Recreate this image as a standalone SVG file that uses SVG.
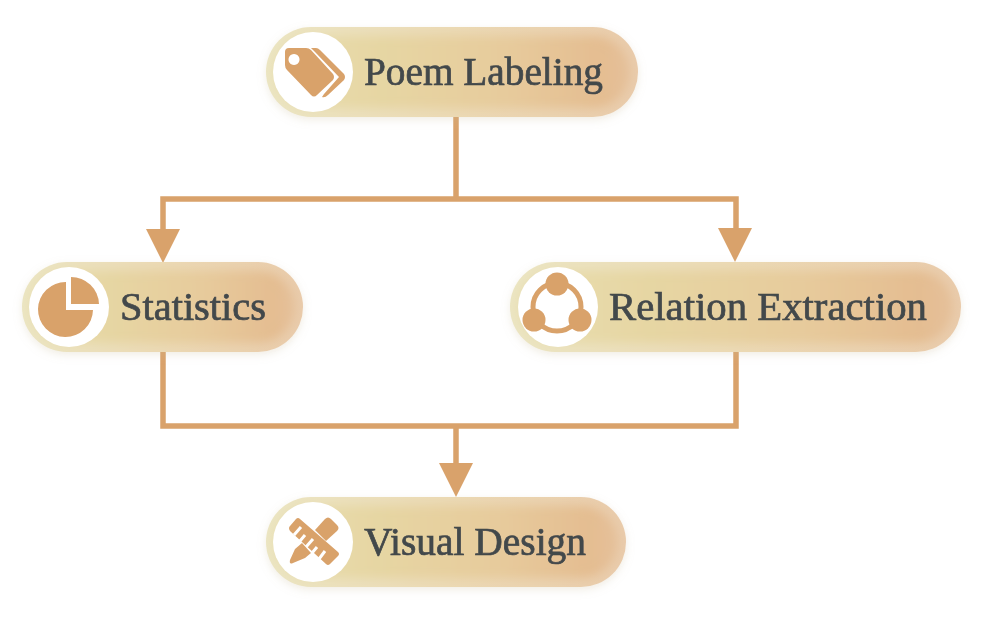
<svg xmlns="http://www.w3.org/2000/svg" width="990" height="618" viewBox="0 0 990 618">
<style>
.pill{filter:url(#soft)}
.core{filter:url(#inner)}
.disc{fill:#fff}
.ico{fill:#d9a26b}
.cut{fill:none;stroke:#fff;stroke-width:3}
.lbl{font-family:"Liberation Serif","DejaVu Serif",serif;font-size:39px;fill:#43484b;stroke:#43484b;stroke-width:.7px;filter:url(#tiny)}
.wire{fill:none;stroke:#d9a26b;stroke-width:5.500}
.blur{filter:url(#tiny)}
</style>
<defs>
<linearGradient id="base" x1="0" y1="0" x2="1" y2="0">
<stop offset="0" stop-color="#ebe5c2"/>
<stop offset=".5" stop-color="#ebd9b4"/>
<stop offset="1" stop-color="#e9cbab"/>
</linearGradient>
<linearGradient id="g" x1="0" y1="0" x2="1" y2="0">
<stop offset="0" stop-color="#e9deb0"/>
<stop offset=".3" stop-color="#e6d6a3"/>
<stop offset=".65" stop-color="#e7cb9c"/>
<stop offset=".92" stop-color="#e4bd91"/>
<stop offset="1" stop-color="#e5c09a"/>
</linearGradient>
<filter id="soft" x="-10%" y="-30%" width="120%" height="170%">
<feDropShadow dx="0" dy="3" stdDeviation="4" flood-color="#c8b898" flood-opacity=".25"/>
</filter>
<filter id="inner" x="-5%" y="-20%" width="110%" height="140%"><feGaussianBlur stdDeviation="5"/></filter>
<filter id="tiny" x="-5%" y="-5%" width="110%" height="110%"><feGaussianBlur stdDeviation=".35"/></filter>
</defs>
<g id="connectors">
<path class="wire" d="M456 117V199"/>
<path class="wire" d="M163 236V199H736V236"/>
<path class="wire" d="M163 352V426H736V352"/>
<path class="wire" d="M456 426V466"/>
<path class="ico" d="M146 229H180L163 263Z"/>
<path class="ico" d="M718 228H752L735 262Z"/>
<path class="ico" d="M439 463H473L456 497Z"/>
</g>
<g id="poem-labeling">
<rect class="pill" x="266" y="27" width="372" height="90" rx="45" fill="url(#base)"/>
<rect class="core" x="274" y="36" width="356" height="72" rx="36" fill="url(#g)"/>
<circle class="disc" cx="313" cy="72" r="40"/>
<g class="ico blur">
<path fill-rule="evenodd" d="M289 48H306Q309 48 311 50L333 74Q335 77 333 80L317 95Q314 98 311 95L287 70Q285 68 285 65V52Q285 48 289 48ZM294 54a5.500 5.500 0 1 0 .01 0Z"/>
<path d="M311 48H316Q318 48 320 50L344 74Q346 77 344 80L328 95Q325 98 322 97L324 94L339 77L315 52Z"/>
</g>
<text class="lbl" x="364" y="85" textLength="239" lengthAdjust="spacingAndGlyphs">Poem Labeling</text>
</g>
<g id="statistics">
<rect class="pill" x="22" y="262" width="281" height="90" rx="45" fill="url(#base)"/>
<rect class="core" x="30" y="271" width="265" height="72" rx="36" fill="url(#g)"/>
<circle class="disc" cx="69" cy="307" r="40"/>
<g class="ico blur">
<path d="M66 282V310H93A27.500 27.500 0 1 1 66 282Z"/>
<path d="M71 277A28 28 0 0 1 99 304H71Z"/>
</g>
<text class="lbl" x="120" y="320" textLength="146" lengthAdjust="spacingAndGlyphs">Statistics</text>
</g>
<g id="relation-extraction">
<rect class="pill" x="510" y="262" width="451" height="90" rx="45" fill="url(#base)"/>
<rect class="core" x="518" y="271" width="435" height="72" rx="36" fill="url(#g)"/>
<circle class="disc" cx="558" cy="307" r="40"/>
<g class="ico blur">
<circle cx="557" cy="307" r="24" fill="none" stroke="#d9a26b" stroke-width="5"/>
<circle cx="557" cy="284" r="11.500"/>
<circle cx="534" cy="320" r="11.500"/>
<circle cx="580" cy="320" r="11.500"/>
</g>
<text class="lbl" x="609" y="320" textLength="318" lengthAdjust="spacingAndGlyphs">Relation Extraction</text>
</g>
<g id="visual-design">
<rect class="pill" x="266" y="497" width="360" height="90" rx="45" fill="url(#base)"/>
<rect class="core" x="274" y="506" width="344" height="72" rx="36" fill="url(#g)"/>
<circle class="disc" cx="313" cy="542" r="40"/>
<g class="blur">
<path class="ico" d="M296 519Q298 517 300 519L338 552Q340 554 338 556L330 564Q328 566 326 564L290 531Q288 528 290 526Z"/>
<path class="cut" d="M294 535L301 527M300 541L305 535M306 547L313 539M312 553L317 547M319 559L325 551"/>
<path class="ico" d="M325 519Q328 516 331 519L337 525Q340 528 337 531L326 541L315 530Z"/>
<path class="ico" d="M295 549L302 543L311 553L305 558L293 563Q289 565 290 560Z"/>
</g>
<text class="lbl" x="364" y="555" textLength="222" lengthAdjust="spacingAndGlyphs">Visual Design</text>
</g>
</svg>
